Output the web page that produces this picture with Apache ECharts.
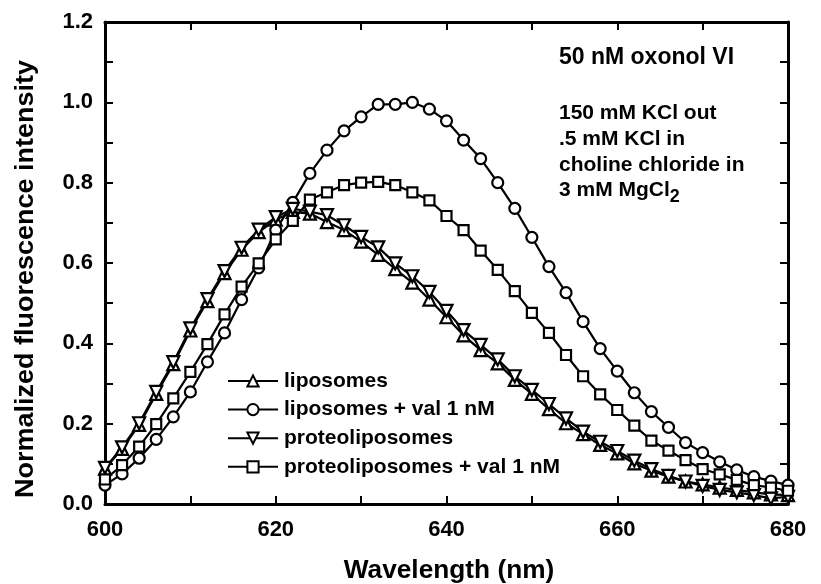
<!DOCTYPE html>
<html>
<head>
<meta charset="utf-8">
<title>Oxonol VI fluorescence</title>
<script src="https://cdn.jsdelivr.net/npm/echarts@6/dist/echarts.min.js"></script>
<style>
  html, body { margin: 0; padding: 0; background: #fff; }
  #chart { width: 821px; height: 584px; }
</style>
</head>
<body>
<div id="chart"></div>
<script>
// wavelength (nm), one point every 2 nm
const wavelengths = [600, 602, 604, 606, 608, 610, 612, 614, 616, 618,
  620, 622, 624, 626, 628, 630, 632, 634, 636, 638,
  640, 642, 644, 646, 648, 650, 652, 654, 656, 658,
  660, 662, 664, 666, 668, 670, 672, 674, 676, 678, 680];

const liposomes = [0.088, 0.137, 0.197, 0.274, 0.348, 0.432, 0.505, 0.575, 0.633, 0.677,
  0.708, 0.727, 0.723, 0.702, 0.682, 0.653, 0.620, 0.585, 0.551, 0.509,
  0.465, 0.420, 0.383, 0.350, 0.309, 0.274, 0.236, 0.201, 0.174, 0.147,
  0.126, 0.101, 0.083, 0.068, 0.056, 0.049, 0.041, 0.035, 0.029, 0.024, 0.022];

const liposomesVal = [0.047, 0.075, 0.114, 0.161, 0.217, 0.279, 0.354, 0.426, 0.509, 0.588,
  0.682, 0.751, 0.823, 0.881, 0.929, 0.964, 0.995, 0.995, 1.000, 0.983,
  0.954, 0.906, 0.860, 0.800, 0.736, 0.664, 0.591, 0.526, 0.454, 0.387,
  0.331, 0.277, 0.230, 0.191, 0.153, 0.128, 0.105, 0.085, 0.068, 0.057, 0.047];

const proteoliposomes = [0.090, 0.141, 0.201, 0.279, 0.353, 0.437, 0.510, 0.580, 0.638, 0.683,
  0.714, 0.735, 0.728, 0.719, 0.694, 0.665, 0.639, 0.599, 0.567, 0.528,
  0.481, 0.433, 0.396, 0.360, 0.318, 0.284, 0.249, 0.213, 0.180, 0.155,
  0.132, 0.108, 0.087, 0.070, 0.056, 0.045, 0.035, 0.029, 0.022, 0.014, 0.018];

const proteoliposomesVal = [0.061, 0.097, 0.143, 0.199, 0.263, 0.329, 0.398, 0.472, 0.541, 0.599,
  0.659, 0.705, 0.758, 0.776, 0.794, 0.800, 0.802, 0.794, 0.776, 0.756,
  0.717, 0.682, 0.631, 0.583, 0.530, 0.476, 0.426, 0.371, 0.318, 0.273,
  0.234, 0.195, 0.158, 0.133, 0.109, 0.087, 0.074, 0.060, 0.047, 0.041, 0.033];

const seriesNames = ['liposomes', 'liposomes + val 1 nM', 'proteoliposomes', 'proteoliposomes + val 1 nM'];
const xTickLabels = ['600', '620', '640', '660', '680'];
const yTickLabels = ['0.0', '0.2', '0.4', '0.6', '0.8', '1.0', '1.2'];

const FONT = '"Liberation Sans", Arial, sans-serif';

function pairs(ys) {
  return wavelengths.map(function (x, i) { return [x, ys[i]]; });
}

function makeSeries(name, ys, symbol, size, rotate) {
  return {
    name: name,
    type: 'line',
    data: pairs(ys),
    symbol: symbol,
    symbolSize: size,
    symbolRotate: rotate || 0,
    showAllSymbol: true,
    lineStyle: { color: '#000', width: 2.2 },
    itemStyle: { color: '#fff', borderColor: '#000', borderWidth: 2.2 },
    emphasis: { disabled: true },
    animation: false
  };
}

function axisBase(position, showLabels) {
  return {
    position: position,
    axisLine: { show: true, onZero: false, lineStyle: { color: '#000', width: 3 } },
    axisTick: { show: true, inside: true, length: 8, lineStyle: { color: '#000', width: 2 } },
    splitLine: { show: false },
    axisLabel: { show: showLabels }
  };
}

let chart = echarts.init(document.getElementById('chart'), null, { renderer: 'canvas' });

let xBottom = Object.assign(axisBase('bottom', true), {
  type: 'value', min: 600, max: 680, interval: 10
});
xBottom.axisLabel = {
  show: true, margin: 15, color: '#000', fontFamily: FONT, fontWeight: 'bold', fontSize: 22,
  formatter: function (v) {
    let s = String(Math.round(v));
    return xTickLabels.indexOf(s) >= 0 ? s : '';
  }
};
let xTop = Object.assign(axisBase('top', false), { type: 'value', min: 600, max: 680, interval: 10 });

let yLeft = Object.assign(axisBase('left', true), { type: 'value', min: 0, max: 1.2, interval: 0.1 });
yLeft.axisLabel = {
  show: true, margin: 12, color: '#000', fontFamily: FONT, fontWeight: 'bold', fontSize: 22,
  formatter: function (v) {
    let s = v.toFixed(1);
    return yTickLabels.indexOf(s) >= 0 ? s : '';
  }
};
let yRight = Object.assign(axisBase('right', false), { type: 'value', min: 0, max: 1.2, interval: 0.1 });

let option = {
  backgroundColor: '#fff',
  animation: false,
  grid: { left: 105, right: 33, top: 22, bottom: 80, containLabel: false },
  xAxis: [xBottom, xTop],
  yAxis: [yLeft, yRight],
  legend: {
    orient: 'vertical',
    left: 222,
    top: 365,
    itemWidth: 50,
    itemHeight: 14,
    itemGap: 6.6,
    data: seriesNames,
    textStyle: {
      color: '#000', fontFamily: FONT, fontWeight: 'bold', fontSize: 21,
      lineHeight: 22, padding: [0, 0, 0, 1]
    }
  },
  graphic: [
    {
      type: 'text', left: 559, top: 46,
      style: { text: '50 nM oxonol VI', fill: '#000', font: 'bold 23px ' + FONT }
    },
    {
      type: 'text', left: 559, top: 100,
      style: {
        text: '150 mM KCl out\n.5 mM KCl in\ncholine chloride in\n3 mM MgCl{sub|2}',
        fill: '#000', font: 'bold 21px ' + FONT, lineHeight: 25.9,
        rich: { sub: { font: 'bold 18px ' + FONT, padding: [12, 0, 0, 0], lineHeight: 25.9 } }
      }
    },
    {
      type: 'text', x: 449, y: 571, scaleX: 1.05,
      style: {
        text: 'Wavelength (nm)', fill: '#000', font: 'bold 25px ' + FONT,
        align: 'center', verticalAlign: 'middle'
      }
    },
    {
      type: 'text', x: 26, y: 279, rotation: Math.PI / 2, scaleX: 1.08,
      style: {
        text: 'Normalized fluorescence intensity', fill: '#000', font: 'bold 25px ' + FONT,
        align: 'center', verticalAlign: 'middle'
      }
    }
  ],
  series: [
    makeSeries(seriesNames[0], liposomes, 'triangle', 12),
    makeSeries(seriesNames[1], liposomesVal, 'circle', 11),
    makeSeries(seriesNames[2], proteoliposomes, 'triangle', 12, 180),
    makeSeries(seriesNames[3], proteoliposomesVal, 'rect', 10)
  ]
};

chart.setOption(option);
</script>
</body>
</html>
